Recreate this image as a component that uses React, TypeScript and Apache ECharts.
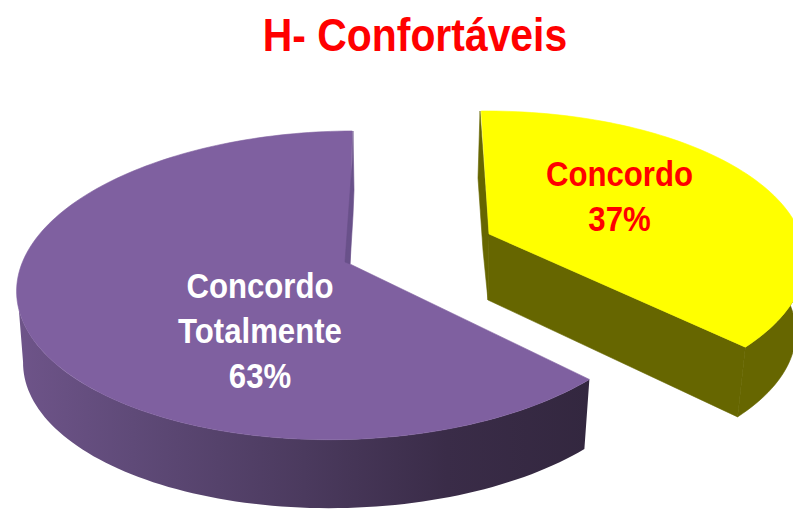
import React, { useEffect, useRef } from "react";
import * as echarts from "echarts";

const chartTitle = "H- Confortáveis";
const categories = ["Concordo\nTotalmente", "Concordo"];
const shares = [63, 37];

const FONT = '"Liberation Sans", Arial, sans-serif';
const KEYSTONE = 0.145;
const NARROW = 0.89;

const geometry = [
  {
    cx: 340, cy: 263, a: 320, b: 151, tilt: 6, start: 2.5, clockwiseFromStart: false,
    wallScale: 0.98, wallDrop: 72,
    apex: [350, 264], strip: [[353, 131], [352, 165], [345, 262], [350, 264], [353, 215], [354, 190]],
    stripColor: "#69518a", top: "#7f60a0", labelAt: [260, 331], labelColor: "#ffffff",
  },
  {
    cx: 486, cy: 238.5, a: 316, b: 146, tilt: 0, start: -1, clockwiseFromStart: true,
    wallScale: 0.97, wallDrop: 73,
    apex: [489, 234], strip: [[480, 111], [489, 234], [488, 300], [483, 250], [478, 178]],
    stripColor: "#666600", top: "#ffff00", labelAt: [619.5, 196], labelColor: "#ff0000",
  },
];

function rimPoint(g: any, deg: number, scale = 1, drop = 0) {
  const t = (deg * Math.PI) / 180;
  const u = Math.sin(t);
  const v = Math.cos(t);
  const w = 1 + KEYSTONE * v;
  return [g.cx + (scale * g.a * u) / w, g.cy - (scale * g.b * v) / w - g.tilt * u + drop];
}

function arcPoints(g: any, from: number, to: number, scale = 1, drop = 0) {
  const n = Math.max(2, Math.ceil(Math.abs(to - from) / 1.5));
  const out: number[][] = [];
  for (let i = 0; i <= n; i++) out.push(rimPoint(g, from + ((to - from) * i) / n, scale, drop));
  return out;
}

function solid(points: number[][], color: string) {
  return {
    type: "polygon",
    shape: { points },
    style: { fill: color, stroke: color, lineWidth: 0.6 },
  };
}

export default function App() {
  const ref = useRef<HTMLDivElement>(null);
  useEffect(() => {
    const chart = echarts.init(ref.current!, null, { renderer: "svg" });
    const total = shares.reduce((s, x) => s + x, 0);
    chart.setOption({
      animation: false,
      backgroundColor: "#ffffff",
      graphic: [
        {
          type: "text",
          x: 415,
          y: 34,
          scaleX: 0.87,
          style: {
            text: chartTitle,
            align: "center",
            verticalAlign: "middle",
            fill: "#ff0000",
            font: `bold 47px ${FONT}`,
          },
        },
      ],
      series: [
        {
          type: "custom",
          coordinateSystem: "none",
          silent: true,
          data: shares.map((v, i) => [i, v]),
          renderItem: (_p: any, api: any) => {
            const i = api.value(0) as number;
            const value = api.value(1) as number;
            const g = geometry[i];
            const sweep = (value / total) * 360;
            const children: any[] = [];
            if (g.clockwiseFromStart) {
              const end = g.start + sweep;
              const rim = arcPoints(g, g.start, end);
              const endTop = rimPoint(g, end);
              const endLow = rimPoint(g, end, g.wallScale, g.wallDrop);
              children.push(solid(g.strip, g.stripColor));
              children.push(
                solid([g.apex, endTop, endLow, [g.apex[0] - 1, g.apex[1] + 66]], g.stripColor)
              );
              children.push(
                solid(
                  [...arcPoints(g, 85, end), ...arcPoints(g, end, 85, g.wallScale, g.wallDrop)],
                  g.stripColor
                )
              );
              children.push(solid([g.apex, ...rim], g.top));
            } else {
              const end = g.start - sweep;
              const rim = arcPoints(g, g.start, end);
              const wallFrom = end + 360;
              const upper = arcPoints(g, wallFrom, 255);
              const lower = arcPoints(g, 262, wallFrom, g.wallScale, g.wallDrop);
              children.push({
                type: "polygon",
                shape: { points: [...upper, ...lower] },
                style: {
                  fill: new echarts.graphic.LinearGradient(0, 0, 1, 0, [
                    { offset: 0, color: "#6e5489" },
                    { offset: 0.2, color: "#5f4a78" },
                    { offset: 0.5, color: "#4b3a5e" },
                    { offset: 0.75, color: "#3a2c48" },
                    { offset: 1, color: "#33273f" },
                  ]),
                },
              });
              children.push(solid([g.apex, ...rim], g.top));
              children.push(solid(g.strip, g.stripColor));
            }
            children.push({
              type: "text",
              x: g.labelAt[0],
              y: g.labelAt[1],
              scaleX: NARROW,
              style: {
                text: `${categories[i]}\n${value}%`,
                align: "center",
                verticalAlign: "middle",
                fill: g.labelColor,
                font: `bold 35px ${FONT}`,
                lineHeight: 45,
              },
            });
            return { type: "group", children };
          },
        },
      ],
    });
    return () => chart.dispose();
  }, []);
  return (
    <div
      ref={ref}
      style={{ position: "absolute", left: 0, top: 0, width: 793, height: 509, overflow: "hidden" }}
    />
  );
}
